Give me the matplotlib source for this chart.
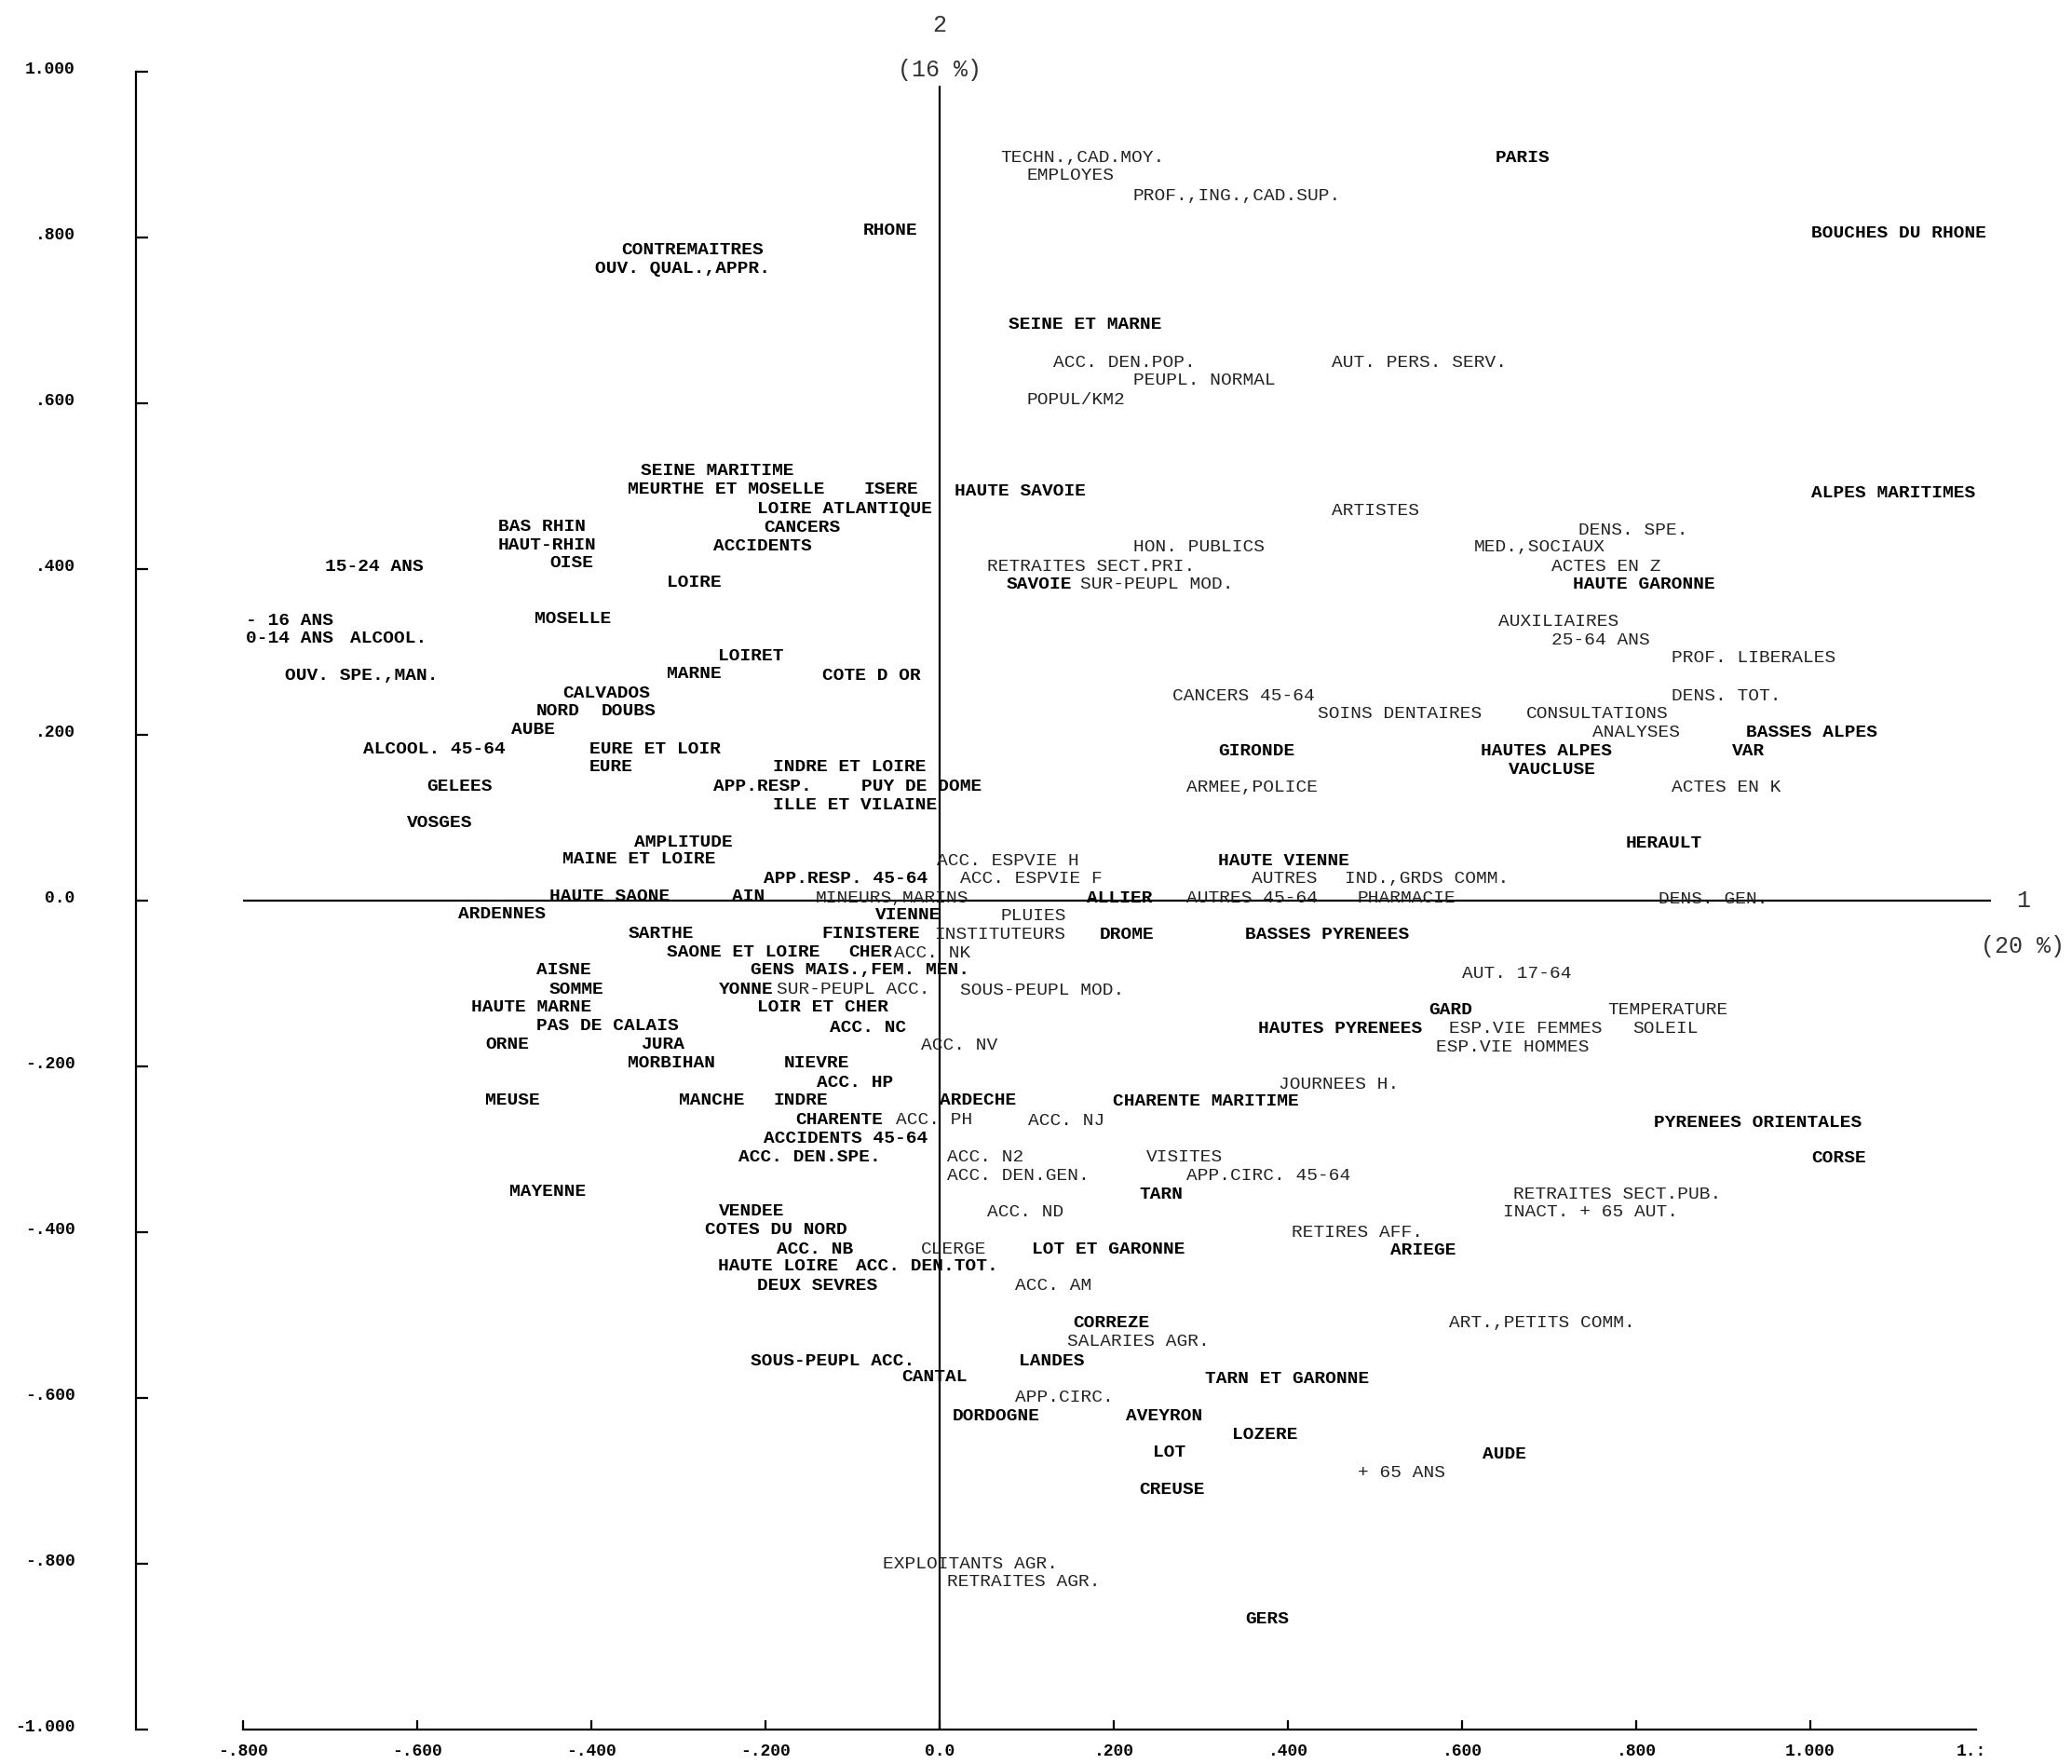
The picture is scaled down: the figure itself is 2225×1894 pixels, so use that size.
import matplotlib
matplotlib.use("Agg")
import matplotlib.pyplot as plt
from matplotlib.transforms import offset_copy, ScaledTranslation

# ---------------- data: departments (left edge of label, factor 1 / factor 2) ----
dep_names = [
    "PARIS", "RHONE", "BOUCHES DU RHONE", "SEINE ET MARNE", "SEINE MARITIME",
    "MEURTHE ET MOSELLE", "ISERE", "HAUTE SAVOIE", "ALPES MARITIMES",
    "LOIRE ATLANTIQUE", "BAS RHIN", "HAUT-RHIN", "OISE", "SAVOIE",
    "HAUTE GARONNE", "LOIRE", "MOSELLE", "LOIRET", "MARNE", "COTE D OR",
    "CALVADOS", "NORD", "DOUBS", "AUBE", "BASSES ALPES", "EURE ET LOIR",
    "GIRONDE", "HAUTES ALPES", "VAR", "EURE", "INDRE ET LOIRE", "VAUCLUSE",
    "PUY DE DOME", "ILLE ET VILAINE", "VOSGES", "HERAULT", "MAINE ET LOIRE",
    "HAUTE VIENNE", "HAUTE SAONE", "AIN", "ALLIER", "ARDENNES", "VIENNE",
    "SARTHE", "FINISTERE", "DROME", "BASSES PYRENEES", "SAONE ET LOIRE",
    "CHER", "AISNE", "SOMME", "YONNE", "HAUTE MARNE", "LOIR ET CHER", "GARD",
    "PAS DE CALAIS", "HAUTES PYRENEES", "ORNE", "JURA", "MORBIHAN", "NIEVRE",
    "MEUSE", "MANCHE", "INDRE", "ARDECHE", "CHARENTE MARITIME", "CHARENTE",
    "PYRENEES ORIENTALES", "CORSE", "MAYENNE", "TARN", "VENDEE",
    "COTES DU NORD", "LOT ET GARONNE", "ARIEGE", "HAUTE LOIRE", "DEUX SEVRES",
    "CORREZE", "LANDES", "CANTAL", "TARN ET GARONNE", "DORDOGNE", "AVEYRON",
    "LOZERE", "LOT", "AUDE", "CREUSE", "GERS",
]
dep_x = [
    0.638, -0.088, 1.001, 0.079, -0.343,
    -0.358, -0.087, 0.017, 1.001,
    -0.210, -0.507, -0.507, -0.448, 0.077,
    0.727, -0.313, -0.465, -0.254, -0.313, -0.135,
    -0.433, -0.463, -0.389, -0.492, 0.926, -0.402,
    0.320, 0.621, 0.910, -0.402, -0.191, 0.653,
    -0.090, -0.191, -0.612, 0.788, -0.433,
    0.320, -0.448, -0.238, 0.169, -0.553, -0.074,
    -0.358, -0.135, 0.184, 0.351, -0.313,
    -0.105, -0.463, -0.448, -0.254, -0.538, -0.210, 0.562,
    -0.463, 0.366, -0.522, -0.343, -0.358, -0.179,
    -0.522, -0.299, -0.191, 0.000, 0.199, -0.166,
    0.820, 1.001, -0.494, 0.229, -0.254,
    -0.269, 0.106, 0.518, -0.254, -0.210,
    0.153, 0.091, -0.044, 0.305, 0.015, 0.214,
    0.336, 0.245, 0.623, 0.229, 0.351,
]
dep_y = [
    0.898, 0.810, 0.807, 0.697, 0.520,
    0.498, 0.498, 0.496, 0.493,
    0.474, 0.453, 0.431, 0.409, 0.383,
    0.383, 0.386, 0.342, 0.297, 0.275, 0.273,
    0.252, 0.230, 0.230, 0.208, 0.205, 0.185,
    0.182, 0.182, 0.182, 0.163, 0.163, 0.160,
    0.139, 0.117, 0.096, 0.071, 0.052,
    0.050, 0.007, 0.007, 0.005, -0.014, -0.016,
    -0.038, -0.038, -0.039, -0.039, -0.060,
    -0.060, -0.082, -0.105, -0.105, -0.127, -0.127, -0.130,
    -0.149, -0.153, -0.172, -0.172, -0.194, -0.194,
    -0.239, -0.239, -0.239, -0.239, -0.240, -0.263,
    -0.266, -0.309, -0.349, -0.352, -0.373,
    -0.395, -0.419, -0.420, -0.439, -0.462,
    -0.508, -0.553, -0.573, -0.575, -0.620, -0.620,
    -0.642, -0.664, -0.666, -0.709, -0.865,
]

# ---------------- data: variables -------------------------------------------
var_names = [
    "TECHN.,CAD.MOY.", "EMPLOYES", "PROF.,ING.,CAD.SUP.", "CONTREMAITRES",
    "OUV. QUAL.,APPR.", "ACC. DEN.POP.", "AUT. PERS. SERV.", "PEUPL. NORMAL",
    "POPUL/KM2", "ARTISTES", "CANCERS", "DENS. SPE.", "ACCIDENTS",
    "HON. PUBLICS", "MED.,SOCIAUX", "15-24 ANS", "RETRAITES SECT.PRI.",
    "ACTES EN Z", "SUR-PEUPL MOD.", "- 16 ANS", "AUXILIAIRES", "0-14 ANS",
    "ALCOOL.", "25-64 ANS", "PROF. LIBERALES", "OUV. SPE.,MAN.",
    "CANCERS 45-64", "DENS. TOT.", "SOINS DENTAIRES", "CONSULTATIONS",
    "ANALYSES", "ALCOOL. 45-64", "GELEES", "APP.RESP.", "ARMEE,POLICE",
    "ACTES EN K", "AMPLITUDE", "ACC. ESPVIE H", "APP.RESP. 45-64",
    "ACC. ESPVIE F", "AUTRES", "IND.,GRDS COMM.", "MINEURS,MARINS",
    "AUTRES 45-64", "PHARMACIE", "DENS. GEN.", "PLUIES", "INSTITUTEURS",
    "ACC. NK", "GENS MAIS.,FEM. MEN.", "AUT. 17-64", "SUR-PEUPL ACC.",
    "SOUS-PEUPL MOD.", "TEMPERATURE", "ACC. NC", "ESP.VIE FEMMES", "SOLEIL",
    "ACC. NV", "ESP.VIE HOMMES", "ACC. HP", "JOURNEES H.", "ACC. PH",
    "ACC. NJ", "ACCIDENTS 45-64", "ACC. DEN.SPE.", "ACC. N2", "VISITES",
    "ACC. DEN.GEN.", "APP.CIRC. 45-64", "RETRAITES SECT.PUB.", "ACC. ND",
    "INACT. + 65 AUT.", "RETIRES AFF.", "ACC. NB", "CLERGE", "ACC. DEN.TOT.",
    "ACC. AM", "ART.,PETITS COMM.", "SALARIES AGR.", "SOUS-PEUPL ACC.",
    "APP.CIRC.", "+ 65 ANS", "EXPLOITANTS AGR.", "RETRAITES AGR.",
]
var_x = [
    0.070, 0.100, 0.222, -0.365,
    -0.396, 0.131, 0.450, 0.222,
    0.100, 0.450, -0.202, 0.734, -0.260,
    0.222, 0.614, -0.706, 0.055,
    0.703, 0.161, -0.797, 0.642, -0.797,
    -0.677, 0.703, 0.841, -0.752,
    0.267, 0.841, 0.434, 0.674,
    0.750, -0.662, -0.589, -0.260, 0.283,
    0.841, -0.351, -0.003, -0.202,
    0.024, 0.358, 0.465, -0.143,
    0.283, 0.480, 0.826, 0.070, -0.006,
    -0.052, -0.217, 0.600, -0.187,
    0.024, 0.767, -0.126, 0.585, 0.796,
    -0.021, 0.570, -0.141, 0.389, -0.050,
    0.102, -0.202, -0.231, 0.009, 0.237,
    0.009, 0.283, 0.659, 0.055,
    0.647, 0.404, -0.187, -0.021, -0.096,
    0.087, 0.585, 0.146, -0.217,
    0.087, 0.480, -0.065, 0.009,
]
var_y = [
    0.898, 0.876, 0.852, 0.786,
    0.764, 0.651, 0.651, 0.629,
    0.606, 0.472, 0.452, 0.448, 0.429,
    0.428, 0.428, 0.405, 0.405,
    0.405, 0.383, 0.340, 0.338, 0.318,
    0.318, 0.316, 0.294, 0.273,
    0.249, 0.249, 0.227, 0.227,
    0.205, 0.184, 0.139, 0.139, 0.138,
    0.138, 0.072, 0.050, 0.028,
    0.028, 0.028, 0.028, 0.005,
    0.005, 0.005, 0.004, -0.017, -0.039,
    -0.062, -0.082, -0.086, -0.105,
    -0.106, -0.130, -0.151, -0.153, -0.153,
    -0.173, -0.175, -0.218, -0.220, -0.263,
    -0.264, -0.285, -0.307, -0.307, -0.307,
    -0.330, -0.330, -0.352, -0.374,
    -0.374, -0.398, -0.419, -0.419, -0.439,
    -0.463, -0.508, -0.530, -0.553,
    -0.597, -0.688, -0.798, -0.820,
]
# variables drawn with the heavy pen in the original
dark_variables = [
    "CONTREMAITRES", "OUV. QUAL.,APPR.", "CANCERS", "ACCIDENTS", "15-24 ANS",
    "- 16 ANS", "0-14 ANS", "ALCOOL.", "OUV. SPE.,MAN.", "ALCOOL. 45-64",
    "GELEES", "APP.RESP.", "AMPLITUDE", "APP.RESP. 45-64",
    "GENS MAIS.,FEM. MEN.", "ACC. NC", "ACC. HP", "ACCIDENTS 45-64",
    "ACC. DEN.SPE.", "ACC. NB", "ACC. DEN.TOT.", "SOUS-PEUPL ACC.",
]

# ---------------- axes ticks ---------------------------------------------------
ytick_values = [-1.0, -0.8, -0.6, -0.4, -0.2, 0.0, 0.2, 0.4, 0.6, 0.8, 1.0]
ytick_labels = ["-1.000", "-.800", "-.600", "-.400", "-.200", "0.0",
                ".200", ".400", ".600", ".800", "1.000"]
xtick_values = [-0.8, -0.6, -0.4, -0.2, 0.0, 0.2, 0.4, 0.6, 0.8, 1.0]
xtick_labels = ["-.800", "-.600", "-.400", "-.200", "0.0",
                ".200", ".400", ".600", ".800", "1.000"]
axis1_label, axis1_pct = "1", "(20 %)"
axis2_label, axis2_pct = "2", "(16 %)"

# ---------------- figure -------------------------------------------------------
FONT = "Liberation Mono"
FS = 14

fig = plt.figure(figsize=(22.25, 18.94), dpi=100)
ax = fig.add_axes([0, 0, 1, 1])
ax.set_xlim(-1.0791, 1.3005)
ax.set_ylim(-1.0415, 1.0860)
ax.patch.set_visible(False)

for s in ("top", "right"):
    ax.spines[s].set_visible(False)
ax.spines["left"].set_position(("data", -0.923))
ax.spines["left"].set_bounds(-1.0, 1.0)
ax.spines["bottom"].set_position(("data", -1.0))
ax.spines["bottom"].set_bounds(-0.8, 1.19)
for s in ("left", "bottom"):
    ax.spines[s].set_linewidth(1.6)

ax.set_yticks(ytick_values)
ax.set_yticklabels(ytick_labels)
ax.set_xticks(xtick_values)
ax.set_xticklabels(xtick_labels)
ax.tick_params(axis="y", direction="in", length=9.4, width=1.6, pad=47)
ax.tick_params(axis="x", direction="in", length=7.2, width=1.6, pad=11)
for lbl in ax.get_yticklabels() + ax.get_xticklabels():
    lbl.set_fontfamily(FONT)
    lbl.set_fontweight("bold")
    lbl.set_fontsize(13)
for lbl in ax.get_yticklabels():
    lbl.set_transform(lbl.get_transform() + ScaledTranslation(0, 3 / 72, fig.dpi_scale_trans))

# truncated last label at the right end of the bottom axis
ax.text(1.185, -1.0, "1.:", transform=offset_copy(ax.transData, fig=fig, y=-11, units="points"),
        ha="center", va="top", family=FONT, weight="bold", fontsize=13)

# factor axes through the origin
ax.hlines(0.0, -0.8, 1.207, color="black", lw=1.6)
ax.vlines(0.0, -1.0, 0.983, color="black", lw=1.6)

ax.text(0.0, 1.0556, axis2_label, ha="center", va="center", family=FONT,
        fontsize=18, color="#333333")
ax.text(0.0, 1.0014, axis2_pct, ha="center", va="center", family=FONT,
        fontsize=18, color="#333333")
ax.text(1.245, 0.0, axis1_label, ha="center", va="center", family=FONT,
        fontsize=18, color="#333333")
ax.text(1.244, -0.055, axis1_pct, ha="center", va="center", family=FONT,
        fontsize=18, color="#333333")

# labels: anchored at their left edge, vertically centred on the cap height
lab_tr = offset_copy(ax.transData, fig=fig, x=0, y=-0.33 * FS, units="points")
for name, x, y in zip(dep_names, dep_x, dep_y):
    ax.text(x, y, name, transform=lab_tr, ha="left", va="baseline",
            family=FONT, weight="bold", fontsize=FS, color="black")
for name, x, y in zip(var_names, var_x, var_y):
    dark = name in dark_variables
    ax.text(x, y, name, transform=lab_tr, ha="left", va="baseline",
            family=FONT, weight="bold" if dark else "normal", fontsize=FS,
            color="black" if dark else "#222222")

fig.savefig("out.png", dpi=100)
